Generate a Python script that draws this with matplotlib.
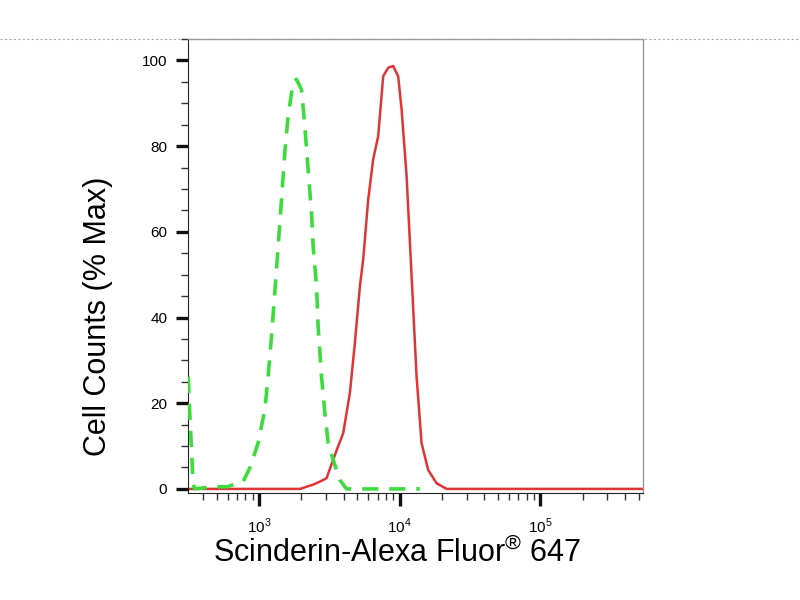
import math
import matplotlib
matplotlib.use('Agg')
import matplotlib.pyplot as plt
import matplotlib.ticker as mticker
from matplotlib.lines import Line2D

plt.rcParams['font.family'] = ['Liberation Sans', 'DejaVu Sans']
plt.rcParams['mathtext.fontset'] = 'custom'
plt.rcParams['mathtext.rm'] = 'Liberation Sans'

# isotype control (green dashed)
ctrl_x = [313, 321, 339, 348, 468, 589, 770, 859, 984, 1098, 1159, 1225, 1293,
          1366, 1443, 1523, 1608, 1745, 1845, 2003, 2114, 2232, 2360, 2423, 2562,
          2630, 2780, 2936, 3100, 3364, 3751, 4188, 13930]
ctrl_y = [26.2, 17.7, 1.4, 0.0, 0.5, 0.5, 1.7, 4.9, 10.7, 18.5, 26.2, 35.6, 45.8,
          56.6, 67.5, 78.5, 87.0, 94.8, 95.6, 93.2, 84.7, 74.5, 64.4, 56.6, 47.3,
          37.9, 26.2, 17.7, 10.7, 6.8, 2.1, 0.0, 0.0]

# Scinderin stained sample (red solid)
stain_x = [313, 1330, 1950, 2423, 2704, 3018, 3364, 3558, 3965, 4424, 4800, 5212,
           5500, 5970, 6477, 7030, 7635, 8283, 8990, 9755, 10320, 11200, 12160,
           13190, 14310, 15960, 18320, 21590, 540000]
stain_y = [0.0, 0.0, 0.0, 1.0, 1.7, 2.5, 6.8, 9.0, 13.0, 22.4, 34.0, 47.3,
           53.5, 67.5, 76.9, 82.3, 96.3, 98.3, 98.7, 96.3, 88.6, 73.0, 49.6,
           26.2, 10.7, 4.4, 1.3, 0.0, 0.0]

fig = plt.figure(figsize=(8, 6), dpi=100)
ax = fig.add_axes([0.235, 0.178, 0.569, 0.757])

ax.plot(stain_x, stain_y, color='#e03535', lw=1.8, zorder=2)
ax.plot(ctrl_x, ctrl_y, color='#3ddc3d', lw=2.6, dashes=(4.5, 3), zorder=3)

ax.set_xscale('log')
ax.set_xlim(312, 540000)
ax.set_ylim(-1, 105)

ax.set_yticks([0, 20, 40, 60, 80, 100])
ax.yaxis.set_minor_locator(mticker.MultipleLocator(5))
ax.xaxis.set_major_locator(mticker.FixedLocator([1e3, 1e4, 1e5]))
ax.xaxis.set_minor_locator(mticker.LogLocator(base=10, subs=range(2, 10), numticks=20))
ax.xaxis.set_minor_formatter(mticker.NullFormatter())
ax.xaxis.set_major_formatter(mticker.FuncFormatter(
    lambda v, p: r'$10^{%d}$' % round(math.log10(v))))

ax.tick_params(axis='both', which='major', direction='out', length=9, width=2.4,
               labelsize=11, color='#111111', pad=6)
ax.tick_params(axis='both', which='minor', direction='out', length=5, width=1,
               color='#333333')
ax.tick_params(axis='x', which='major', labelsize=11, pad=8)

for s in ['top', 'right']:
    ax.spines[s].set_color('#999999')
    ax.spines[s].set_linewidth(1)
ax.spines['left'].set_color('#222222')
ax.spines['bottom'].set_color('#222222')

ax.set_ylabel('Cell Counts (% Max)', fontsize=22)
ax.yaxis.set_label_coords(-0.165, 0.39)
ax.set_xlabel('Scinderin-Alexa Fluor$^{®}$ 647', fontsize=22)
ax.xaxis.set_label_coords(0.46, -0.095)

# dotted guide line across the top of the figure
fig.add_artist(Line2D([0, 1], [0.935, 0.935], transform=fig.transFigure,
                      color='#aaaaaa', lw=0.8, ls=(0, (2, 2)), zorder=0))

fig.savefig('out.png', dpi=100)
